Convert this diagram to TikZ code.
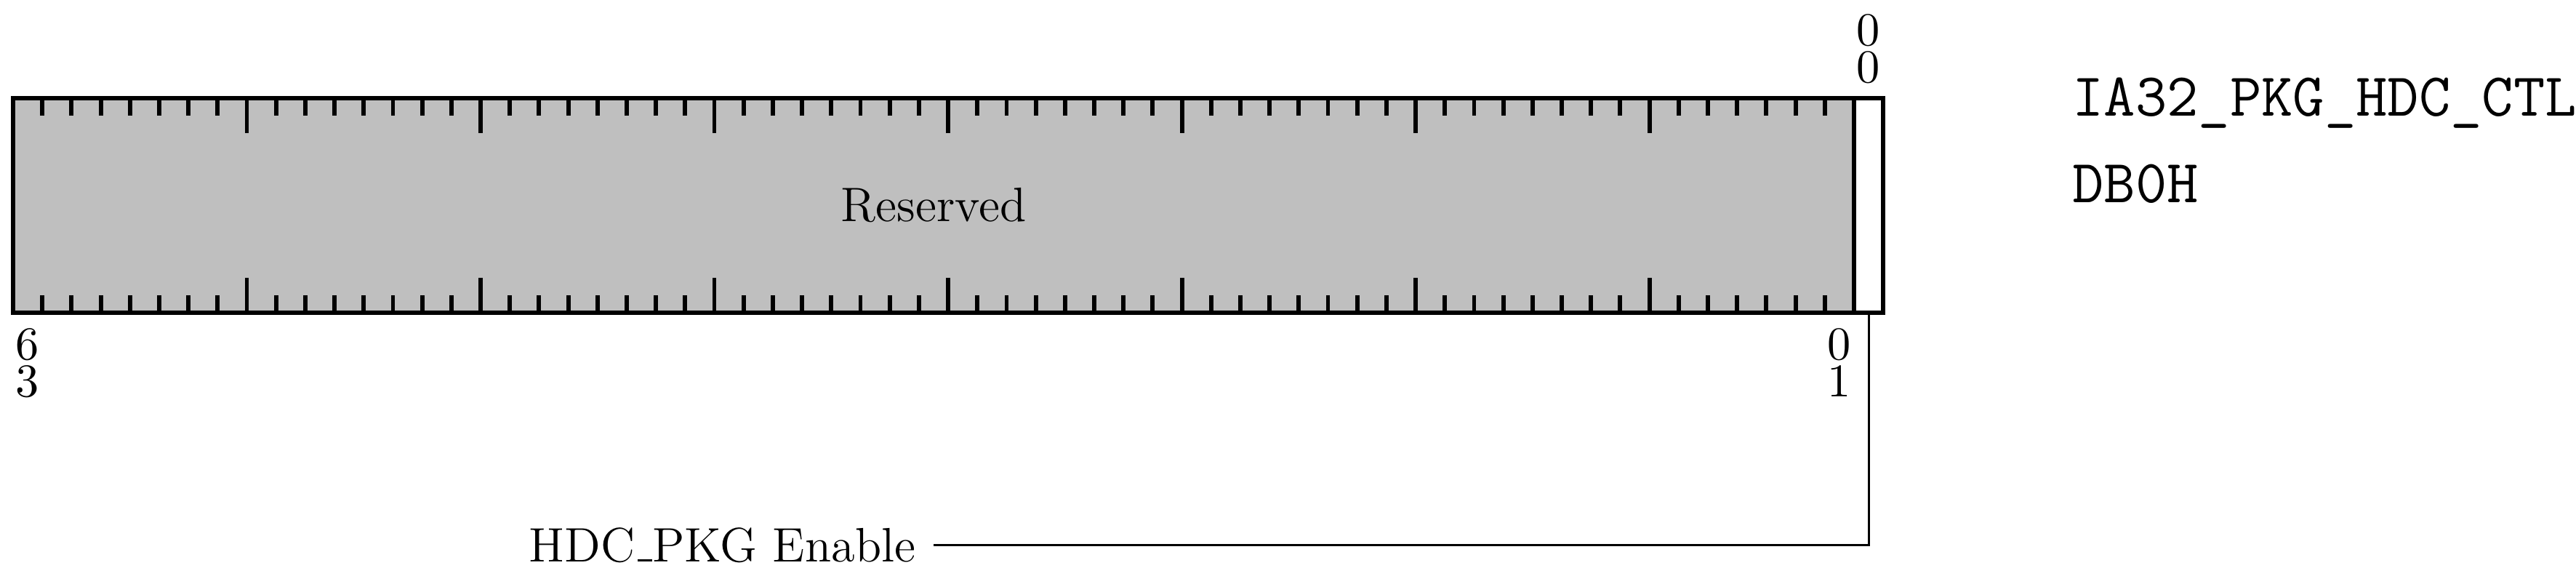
\documentclass[tikz,border=0pt]{standalone}
\usetikzlibrary{positioning}
\newcommand{\lowbar}{\kern.06em\rule{.3em}{.6pt}}
\tikzset{
  bitno/.style={font=\fontsize{10.95}{13.6}\selectfont, inner sep=0pt},
  fieldname/.style={font=\fontsize{11.3}{13.8}\selectfont},
  regname/.style={font=\fontsize{14.3}{17}\selectfont\ttfamily, anchor=base west, inner sep=0pt},
  thick rule/.style={line width=1pt},
  leader/.style={line width=0.5pt},
}

\begin{document}
\begin{tikzpicture}[x=0.24cm,y=0.24cm]
\useasboundingbox (-0.448,-9.007) rectangle (87.71,10.70);
\fill[black!25] (0,0) rectangle (63,7.34);
\foreach \i in {1,...,62} {
  \pgfmathsetmacro{\len}{mod(\i,8)==0 ? 1.2 : 0.6}
  \draw[thick rule] (\i,7.34) -- ++(0,-\len);
  \draw[thick rule] (\i,0) -- ++(0,\len);
}
\draw[thick rule] (0,0) rectangle (64,7.34);
\draw[thick rule] (63,0) -- (63,7.34);
\node[fieldname] (resv) at (31.5,3.67) {Reserved};
\node[bitno] (top0a) at (63.5,9.66) {0};
\node[bitno] (top0b) at (63.5,8.38) {0};
\node[bitno] (lo6) at (0.5,-1.08) {6};
\node[bitno] (lo3) at (0.5,-2.35) {3};
\node[bitno] (lo0) at (62.5,-1.08) {0};
\node[bitno] (lo1) at (62.5,-2.35) {1};
\node[regname] (msr) at (70.45,6.72) {IA32\_PKG\_HDC\_CTL};
\node[regname] (addr) at (70.45,3.78) {DB0H};
\coordinate (bit0) at (63.5,0);
\node[fieldname, anchor=east, inner sep=4pt] (enable) at (31.5,-7.95) {HDC\lowbar PKG Enable};
\draw[leader] (bit0) |- (enable.east);
\end{tikzpicture}
\end{document}
